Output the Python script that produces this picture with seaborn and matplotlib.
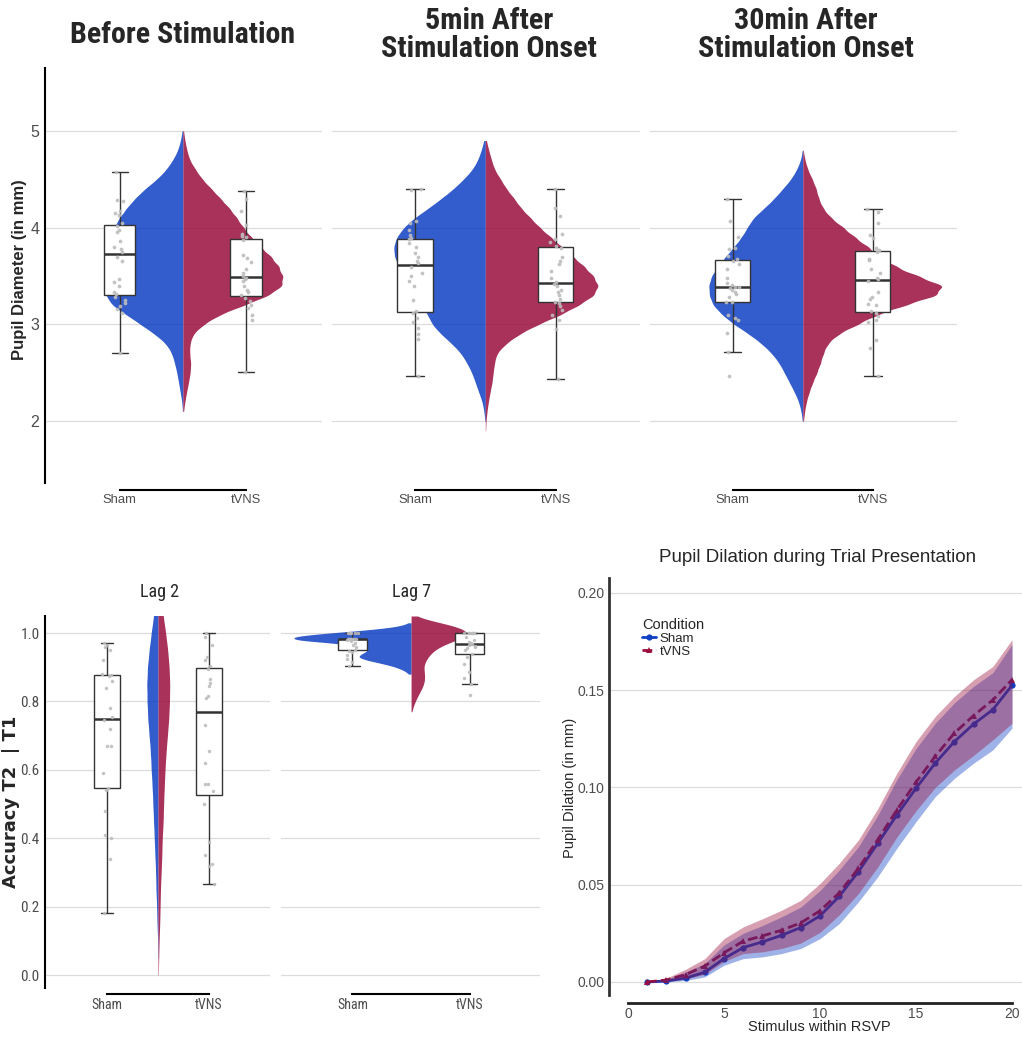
import numpy as np
import pandas as pd
import matplotlib
matplotlib.use("Agg")
import matplotlib.pyplot as plt
import seaborn as sns
from matplotlib import font_manager

sns.set_style("white")
avail = {f.name for f in font_manager.fontManager.ttflist}
NARROW = "Liberation Sans"
for cand in ["Liberation Sans Narrow", "Roboto Condensed", "DejaVu Sans Condensed", "Open Sans Condensed"]:
    if cand in avail:
        NARROW = cand
        break
plt.rcParams["font.family"] = ["Liberation Sans", "DejaVu Sans"]

# ---------------- data ----------------
CONDS = ["Sham", "tVNS"]
BLUE = "#0f3fc3"
RED = "#990e3d"
PAL = {"Sham": BLUE, "tVNS": RED}

# box / jitter data (pupil diameter, mm)
before_sham = [2.70, 3.12, 3.16, 3.19, 3.22, 3.25, 3.28, 3.31, 3.33, 3.40, 3.44, 3.47, 3.66, 3.70,
               3.75, 3.78, 3.80, 3.86, 3.95, 3.98, 4.02, 4.05, 4.13, 4.15, 4.17, 4.27, 4.29, 4.57]
before_tvns = [2.51, 3.05, 3.10, 3.17, 3.20, 3.24, 3.27, 3.30, 3.33, 3.36, 3.40, 3.45, 3.47, 3.48,
               3.50, 3.53, 3.57, 3.64, 3.69, 3.72, 3.87, 3.90, 3.91, 3.93, 4.03, 4.17, 4.30, 4.38]
min5_sham = [2.47, 2.85, 2.90, 2.96, 3.02, 3.07, 3.12, 3.135, 3.25, 3.40, 3.45, 3.50, 3.53, 3.59,
             3.63, 3.66, 3.70, 3.74, 3.80, 3.84, 3.88, 3.895, 3.92, 3.98, 4.05, 4.07, 4.39, 4.40]
min5_tvns = [2.44, 2.95, 3.05, 3.10, 3.15, 3.19, 3.22, 3.235, 3.26, 3.30, 3.33, 3.36, 3.40, 3.42,
             3.44, 3.48, 3.55, 3.62, 3.66, 3.70, 3.79, 3.81, 3.85, 3.88, 3.93, 4.12, 4.20, 4.40]
min30_sham = [2.47, 2.71, 2.91, 3.05, 3.07, 3.10, 3.23, 3.235, 3.28, 3.31, 3.33, 3.36, 3.38, 3.383,
              3.39, 3.41, 3.43, 3.48, 3.57, 3.62, 3.66, 3.68, 3.71, 3.78, 3.79, 3.90, 4.07, 4.30]
min30_tvns = [2.466, 2.76, 2.84, 3.02, 3.05, 3.09, 3.12, 3.136, 3.20, 3.21, 3.26, 3.28, 3.33, 3.448,
              3.47, 3.48, 3.53, 3.57, 3.67, 3.68, 3.75, 3.77, 3.79, 3.89, 3.92, 4.05, 4.16, 4.197]

# violin distributions (value levels and counts)
top_levels = [5.0, 4.9, 4.8, 4.7, 4.6, 4.5, 4.4, 4.3, 4.2, 4.1, 4.0, 3.9, 3.8, 3.7, 3.6, 3.5,
              3.4, 3.3, 3.2, 3.1, 3.0, 2.9, 2.8, 2.7, 2.6, 2.5, 2.4, 2.3, 2.2, 2.1, 2.0, 1.9]
before_sham_counts = [2, 7, 15, 30, 50, 78, 115, 145, 170, 192, 208, 216, 222, 226, 228, 230,
                      232, 233, 215, 170, 128, 85, 50, 33, 25, 18, 13, 8, 3, 1, 0, 0]
before_tvns_counts = [2, 6, 12, 20, 38, 58, 86, 113, 140, 162, 182, 205, 234, 265, 288, 300,
                      300, 258, 185, 110, 62, 30, 21, 20, 24, 22, 17, 11, 6, 2, 0, 0]
min5_sham_counts = [0, 4, 12, 22, 38, 65, 95, 132, 170, 213, 245, 266, 275, 272, 260, 240,
                    220, 205, 190, 172, 160, 133, 100, 72, 55, 40, 30, 20, 9, 4, 1, 0]
min5_tvns_counts = [0, 3, 10, 18, 27, 45, 62, 85, 105, 133, 160, 193, 225, 258, 290, 318,
                    333, 320, 275, 222, 155, 100, 60, 33, 27, 23, 20, 14, 9, 5, 2, 1]
min30_sham_counts = [0, 0, 1, 6, 18, 35, 60, 85, 115, 148, 165, 182, 205, 230, 252, 272,
                     280, 278, 268, 240, 205, 160, 122, 92, 70, 55, 40, 25, 12, 5, 1, 0]
min30_tvns_counts = [0, 0, 1, 6, 14, 27, 38, 45, 57, 80, 115, 148, 185, 218, 262, 325,
                     400, 380, 290, 210, 155, 100, 70, 58, 50, 40, 28, 18, 10, 5, 2, 0]

# accuracy T2|T1
lag2_sham = [0.18, 0.34, 0.40, 0.41, 0.48, 0.54, 0.548, 0.59, 0.67, 0.67, 0.72, 0.745,
             0.755, 0.78, 0.84, 0.86, 0.875, 0.877, 0.88, 0.92, 0.95, 0.96, 0.965, 0.97]
lag2_tvns = [0.265, 0.32, 0.325, 0.35, 0.39, 0.50, 0.537, 0.56, 0.56, 0.62, 0.655, 0.73,
             0.81, 0.815, 0.845, 0.855, 0.865, 0.895, 0.905, 0.92, 0.93, 0.965, 0.99, 1.0]
lag7_sham = [0.905, 0.915, 0.925, 0.935, 0.945, 0.948, 0.952, 0.96, 0.965, 0.97, 0.976, 0.98,
             0.984, 0.984, 0.984, 0.984, 0.984, 0.984, 0.984, 1.0, 1.0, 1.0, 1.0, 1.0]
lag7_tvns = [0.818, 0.85, 0.87, 0.885, 0.91, 0.93, 0.94, 0.95, 0.955, 0.96, 0.962, 0.965,
             0.969, 0.97, 0.975, 0.98, 0.99, 1.0, 1.0, 1.0, 1.0, 1.0, 1.0, 1.0]

lag2_levels = [1.10, 1.05, 1.00, 0.95, 0.90, 0.85, 0.80, 0.75, 0.70, 0.65, 0.60, 0.55,
               0.50, 0.45, 0.40, 0.35, 0.30, 0.25, 0.20, 0.15, 0.10, 0.05, 0.00]
lag2_sham_counts = [8, 13, 20, 26, 31, 33, 32, 30, 26, 22, 20, 17, 15, 13, 11, 9, 7, 6, 4, 3, 1, 1, 0]
lag2_tvns_counts = [9, 15, 22, 28, 32, 34, 33, 31, 27, 23, 20, 18, 16, 15, 12, 11, 9, 7, 6, 5, 3, 2, 1]

lag7_levels = [1.05, 1.04, 1.03, 1.02, 1.01, 1.00, 0.99, 0.98, 0.97, 0.96, 0.95, 0.94, 0.93, 0.92,
               0.91, 0.90, 0.89, 0.88, 0.87, 0.86, 0.85, 0.84, 0.83, 0.82, 0.81, 0.80, 0.79, 0.78, 0.77]
lag7_sham_counts = [0, 0, 5, 30, 110, 230, 330, 330, 200, 130, 115, 135, 150, 120, 75, 40, 18, 6,
                    0, 0, 0, 0, 0, 0, 0, 0, 0, 0, 0]
lag7_tvns_counts = [2, 30, 85, 125, 150, 165, 150, 125, 95, 75, 62, 52, 45, 40, 34, 33, 35, 37,
                    37, 36, 35, 30, 25, 20, 15, 11, 7, 4, 2]

# widest point of each violin half (in x units): (Sham, tVNS)
half_widths = {"before": (0.61, 0.79), "min5": (0.65, 0.80), "min30": (0.67, 0.99),
               "lag2": (0.11, 0.115), "lag7": (1.0, 0.47)}

# pupil dilation time course
stimulus = [1, 2, 3, 4, 5, 6, 7, 8, 9, 10, 11, 12, 13, 14, 15, 16, 17, 18, 19, 20]
sham_mean = [0.000, 0.0005, 0.002, 0.005, 0.012, 0.0177, 0.0206, 0.024, 0.028, 0.034, 0.044, 0.0567,
             0.0712, 0.0858, 0.0996, 0.1125, 0.1236, 0.1326, 0.140, 0.1525]
tvns_mean = [0.000, 0.001, 0.0038, 0.0082, 0.015, 0.021, 0.0237, 0.0266, 0.0304, 0.0366, 0.0458, 0.0584,
             0.073, 0.0884, 0.1027, 0.116, 0.128, 0.137, 0.145, 0.1554]
sham_lo = [0.000, 0.000, 0.0008, 0.0026, 0.0086, 0.012, 0.0129, 0.0146, 0.0172, 0.0223, 0.030, 0.0412,
           0.054, 0.0687, 0.0824, 0.0953, 0.1047, 0.1125, 0.1193, 0.1305]
sham_hi = [0.000, 0.0015, 0.005, 0.0095, 0.019, 0.025, 0.029, 0.0335, 0.0385, 0.047, 0.0575, 0.0695,
           0.0855, 0.104, 0.120, 0.133, 0.1435, 0.152, 0.159, 0.1735]
tvns_lo = [0.000, 0.0003, 0.0015, 0.004, 0.0105, 0.0146, 0.0155, 0.0172, 0.020, 0.0255, 0.0345, 0.0455,
           0.059, 0.0745, 0.088, 0.100, 0.109, 0.1165, 0.1245, 0.133]
tvns_hi = [0.000, 0.002, 0.0065, 0.012, 0.0223, 0.0283, 0.0325, 0.0369, 0.042, 0.0506, 0.061, 0.073,
           0.089, 0.1073, 0.1236, 0.1365, 0.1468, 0.1554, 0.1622, 0.176]

# ---------------- figure ----------------
W, H = 1022, 1037
fig = plt.figure(figsize=(W / 100, H / 100), dpi=100)
renderer = fig.canvas.get_renderer()


def rect(l, t, r, b):
    return [l / W, 1 - b / H, (r - l) / W, (b - t) / H]


def fit_width(txt, target_px):
    w = txt.get_window_extent(renderer=renderer).width
    if w > 0:
        txt.set_fontsize(txt.get_fontsize() * target_px / w)


np.random.seed(3)
GRID = "#dcdcdc"
TICK = "#4d4d4d"
CENTER = 0.5


def split_violin(ax, levels, c_sham, c_tvns, hw, bw):
    vy = np.concatenate([np.repeat(levels, c_sham), np.repeat(levels, c_tvns)])
    vc = ["Sham"] * int(sum(c_sham)) + ["tVNS"] * int(sum(c_tvns))
    vdf = pd.DataFrame({"x": CENTER, "y": vy, "cond": vc})
    n0 = len(ax.collections)
    # each half gets unit width at its peak, then is scaled to its own peak width
    sns.violinplot(data=vdf, x="x", y="y", hue="cond", hue_order=CONDS, split=True,
                   native_scale=True, width=2.0, inner=None, cut=0, bw_method=bw,
                   density_norm="width", palette=PAL, saturation=1,
                   linewidth=0, legend=False, gridsize=500, ax=ax)
    for c in ax.collections[n0:]:
        paths = c.get_paths()
        if not paths:
            continue
        xs = np.concatenate([p.vertices[:, 0] for p in paths])
        f = hw[0] if xs.mean() < CENTER else hw[1]
        new_verts = []
        for p in paths:
            v = np.array(p.vertices, dtype=float)
            v[:, 0] = CENTER + (v[:, 0] - CENTER) * f
            new_verts.append(v)
        c.set_verts(new_verts)
        c.set_alpha(0.85)
        c.set_zorder(0.8)


def raincloud(ax, sham, tvns, levels, c_sham, c_tvns, hw, bw, jit, psize):
    split_violin(ax, levels, c_sham, c_tvns, hw, bw)
    bdf = pd.DataFrame({"x": [0] * len(sham) + [1] * len(tvns), "y": list(sham) + list(tvns)})
    sns.boxplot(data=bdf, x="x", y="y", native_scale=True, width=0.25, color="white",
                linecolor="#333333", linewidth=1.0, showfliers=False, saturation=1,
                medianprops=dict(linewidth=1.8), ax=ax)
    sns.stripplot(data=bdf, x="x", y="y", native_scale=True, jitter=jit, color="#bdbdbd",
                  size=psize, alpha=0.9, linewidth=0, ax=ax, zorder=5)
    ax.set_xlabel("")
    ax.set_ylabel("")


def style_cat(ax, xlim, ylim, yticks, show_y, ylabels=None, xfont=None, xsize=9.4, ysize=11.5, off=5):
    ax.set_xlim(*xlim)
    ax.set_ylim(*ylim)
    ax.set_yticks(yticks)
    ax.yaxis.grid(True, color=GRID, lw=0.9)
    ax.xaxis.grid(False)
    ax.set_axisbelow(True)
    for s in ["top", "right"]:
        ax.spines[s].set_visible(False)
    ax.spines["bottom"].set_bounds(0, 1)
    ax.spines["bottom"].set_position(("outward", off))
    ax.spines["bottom"].set_color("black")
    ax.spines["bottom"].set_linewidth(1.5)
    ax.set_xticks([0, 1])
    ax.set_xticklabels(CONDS)
    if xfont:
        for t in ax.get_xticklabels():
            t.set_fontfamily(xfont)
    ax.tick_params(axis="x", length=0, labelcolor=TICK, labelsize=xsize, pad=3)
    if show_y:
        ax.spines["left"].set_color("black")
        ax.spines["left"].set_linewidth(1.5)
        if ylabels is not None:
            ax.set_yticklabels(ylabels)
        ax.tick_params(axis="y", length=0, labelcolor=TICK, labelsize=ysize, pad=4)
    else:
        ax.spines["left"].set_visible(False)
        ax.tick_params(axis="y", length=0, labelleft=False)


# ---- top row ----
top_specs = [
    (45, 322, before_sham, before_tvns, before_sham_counts, before_tvns_counts, "before", True),
    (332, 640, min5_sham, min5_tvns, min5_sham_counts, min5_tvns_counts, "min5", False),
    (650, 957, min30_sham, min30_tvns, min30_sham_counts, min30_tvns_counts, "min30", False),
]
for l, r, s, t, cs, ct, key, showy in top_specs:
    ax = fig.add_axes(rect(l, 68, r, 483))
    raincloud(ax, s, t, top_levels, cs, ct, half_widths[key], 0.12, 0.05, 2.7)
    style_cat(ax, (-0.59, 1.6), (1.36, 5.65), [2, 3, 4, 5], showy)

fig.text(20 / W, 1 - 270 / H, "Pupil Diameter (in mm)", rotation=90, ha="center", va="center",
         fontsize=12, fontweight="bold")
tkw = dict(ha="center", va="center", fontsize=19, fontweight="bold", family=NARROW, linespacing=1.0)
t1 = fig.text(183 / W, 1 - 35 / H, "Before Stimulation", **tkw)
t2 = fig.text(489 / W, 1 - 35 / H, "5min After\nStimulation Onset", **tkw)
t3 = fig.text(806 / W, 1 - 35 / H, "30min After\nStimulation Onset", **tkw)
fit_width(t1, 225)
fit_width(t2, 216)
fit_width(t3, 216)

# ---- bottom left: lag panels ----
lag_specs = [
    (45, 270, lag2_sham, lag2_tvns, lag2_levels, lag2_sham_counts, lag2_tvns_counts, "lag2", 0.12, True, 160, "Lag 2"),
    (281, 540, lag7_sham, lag7_tvns, lag7_levels, lag7_sham_counts, lag7_tvns_counts, "lag7", 0.2, False, 412, "Lag 7"),
]
for l, r, s, t, lv, cs, ct, key, bw, showy, cx, title in lag_specs:
    ax = fig.add_axes(rect(l, 616, r, 988))
    raincloud(ax, s, t, lv, cs, ct, half_widths[key], bw, 0.05, 2.5)
    style_cat(ax, (-0.61, 1.6), (-0.038, 1.05), [0, 0.2, 0.4, 0.6, 0.8, 1.0], showy,
              ylabels=["0.0", "0.2", "0.4", "0.6", "0.8", "1.0"], xfont=NARROW, xsize=10, ysize=11, off=4)
    if showy:
        for tl in ax.get_yticklabels():
            tl.set_fontfamily(NARROW)
    fig.text(cx / W, 1 - 592 / H, title, ha="center", va="center", fontsize=13, family=NARROW)

fig.text(11 / W, 1 - 802 / H, "Accuracy T2  | T1", rotation=90, ha="center", va="center",
         fontsize=13, fontweight="bold", family="DejaVu Sans")

# ---- bottom right: time course ----
ax4 = fig.add_axes(rect(609, 578, 1022, 995))
ldf = pd.DataFrame({"stim": stimulus * 2, "dil": sham_mean + tvns_mean,
                    "cond": ["Sham"] * len(stimulus) + ["tVNS"] * len(stimulus)})
sns.lineplot(data=ldf, x="stim", y="dil", hue="cond", style="cond", hue_order=CONDS,
             style_order=CONDS, palette=PAL, markers={"Sham": "o", "tVNS": "^"},
             dashes={"Sham": "", "tVNS": (3.5, 1.5)}, markersize=4.5, markeredgewidth=0,
             linewidth=2, errorbar=None, ax=ax4, zorder=2)
ax4.fill_between(stimulus, sham_lo, sham_hi, color=BLUE, alpha=0.4, lw=0, zorder=3)
ax4.fill_between(stimulus, tvns_lo, tvns_hi, color=RED, alpha=0.4, lw=0, zorder=3)
ax4.set_xlim(-0.99, 20.52)
ax4.set_ylim(-0.0067, 0.2077)
ax4.set_xticks([0, 5, 10, 15, 20])
ax4.set_yticks([0, 0.05, 0.10, 0.15, 0.20])
ax4.set_yticklabels(["0.00", "0.05", "0.10", "0.15", "0.20"])
ax4.yaxis.grid(True, color=GRID, lw=0.9)
ax4.xaxis.grid(False)
ax4.set_axisbelow(True)
for s in ["top", "right"]:
    ax4.spines[s].set_visible(False)
ax4.spines["left"].set_color("#333333")
ax4.spines["left"].set_linewidth(2)
ax4.spines["bottom"].set_color("#222222")
ax4.spines["bottom"].set_linewidth(2)
ax4.spines["bottom"].set_bounds(0, 20)
ax4.spines["bottom"].set_position(("outward", 6))
ax4.tick_params(length=0, labelcolor=TICK, labelsize=10, pad=3)
ax4.set_xlabel("")
ax4.set_ylabel("")
handles, labels = ax4.get_legend_handles_labels()
hl = [(h, lb) for h, lb in zip(handles, labels) if lb in CONDS]
leg = ax4.legend([h for h, _ in hl], [lb for _, lb in hl], title="Condition", loc="upper left",
                 bbox_to_anchor=(0.065, 0.92), frameon=False, fontsize=9.5, title_fontsize=10.5,
                 handlelength=1.0, handletextpad=0.3, labelspacing=0.05, borderpad=0)
leg._legend_box.align = "left"
fig.text(818 / W, 1 - 557 / H, "Pupil Dilation during Trial Presentation", ha="center", va="center",
         fontsize=13.5)
fig.text(819 / W, 1 - 1027 / H, "Stimulus within RSVP", ha="center", va="center", fontsize=10.5)
fig.text(570 / W, 1 - 788 / H, "Pupil Dilation (in mm)", rotation=90, ha="center", va="center",
         fontsize=10.5)

fig.savefig("out.png", dpi=100)
